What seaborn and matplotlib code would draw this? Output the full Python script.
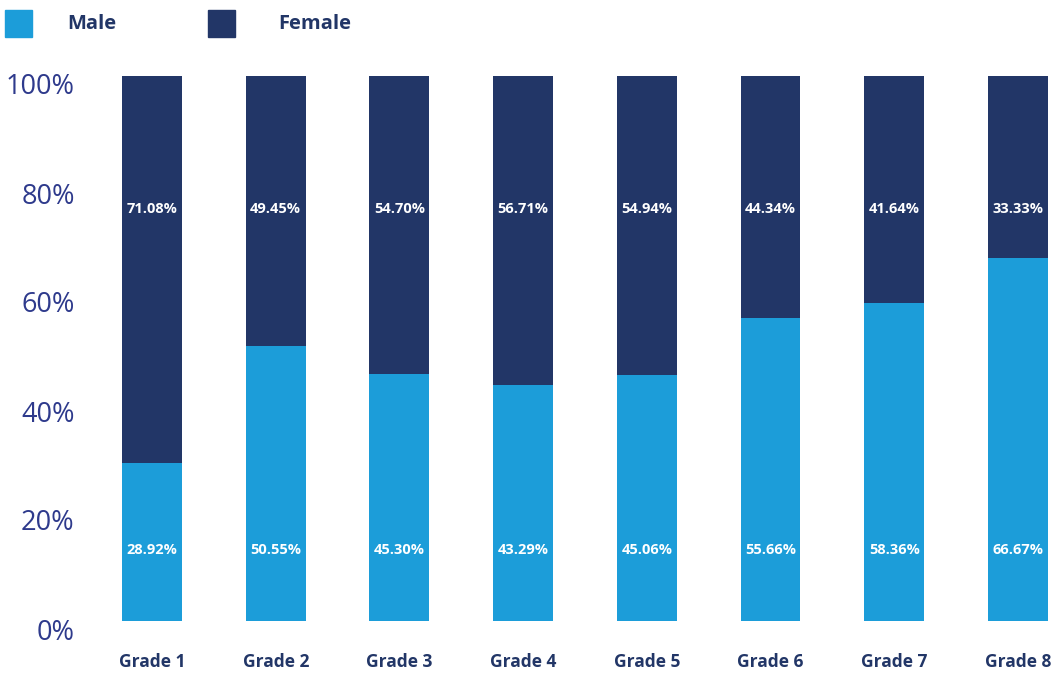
import matplotlib
matplotlib.use("Agg")
import matplotlib.pyplot as plt
import matplotlib.transforms as mtrans
from matplotlib.patches import Rectangle
import seaborn as sns
import pandas as pd

grades = ["Grade 1", "Grade 2", "Grade 3", "Grade 4", "Grade 5", "Grade 6", "Grade 7", "Grade 8"]
male = [28.92, 50.55, 45.30, 43.29, 45.06, 55.66, 58.36, 66.67]
female = [71.08, 49.45, 54.70, 56.71, 54.94, 44.34, 41.64, 33.33]
yticks = [0, 20, 40, 60, 80, 100]
ytick_labels = ["0%", "20%", "40%", "60%", "80%", "100%"]

MALE_C = "#1c9dd9"
FEMALE_C = "#223667"
TICK_C = "#2e3a8c"
TEXT_C = "#223667"

sns.set_style("white")
plt.rcParams["font.family"] = ["Open Sans", "Lato", "DejaVu Sans"]

W, H = 1053, 675
fig = plt.figure(figsize=(W / 100, H / 100), dpi=100)
L, R, B, T = 90, 1050, 621, 76
ax = fig.add_axes([L / W, (H - B) / H, (R - L) / W, (B - T) / H])

df = pd.DataFrame({"grade": grades, "male": male, "female": female})
df["total"] = df["male"] + df["female"]

sns.barplot(data=df, x="grade", y="total", color=FEMALE_C, width=0.485,
            saturation=1, ax=ax, order=grades, linewidth=0, edgecolor="none")
sns.barplot(data=df, x="grade", y="male", color=MALE_C, width=0.485,
            saturation=1, ax=ax, order=grades, linewidth=0, edgecolor="none")

step = 123.7
ax.set_xlim((L - 152) / step, (R - 152) / step)
ax.set_ylim(0, 100)
sns.despine(ax=ax, left=True, bottom=True)
ax.set_xlabel("")
ax.set_ylabel("")

ax.set_yticks(yticks)
ax.set_yticklabels(ytick_labels, fontsize=19.5, color=TICK_C, fontweight="normal")
ax.tick_params(axis="y", length=0, pad=11)
off = mtrans.ScaledTranslation(0, -8 / 100, fig.dpi_scale_trans)
for lab in ax.get_yticklabels():
    lab.set_transform(lab.get_transform() + off)

ax.set_xticks(range(len(grades)))
ax.set_xticklabels(grades, fontsize=12.5, fontweight="bold", color=TEXT_C)
ax.tick_params(axis="x", length=0, pad=23)

for i, (m, f) in enumerate(zip(male, female)):
    ax.text(i, 75.6, f"{f:.2f}%", ha="center", va="center", color="white",
            fontsize=10.5, fontweight="bold")
    ax.text(i, 13.0, f"{m:.2f}%", ha="center", va="center", color="white",
            fontsize=10.5, fontweight="bold")

# legend
for x0, lab, c, tx in [(5, "Male", MALE_C, 67), (208, "Female", FEMALE_C, 278)]:
    fig.patches.append(Rectangle((x0 / W, (H - 37) / H), 27 / W, 27 / H,
                                 transform=fig.transFigure, color=c))
    fig.text(tx / W, (H - 24) / H, lab, ha="left", va="center", fontsize=14.5,
             fontweight="bold", color=TEXT_C)

fig.savefig("out.png", dpi=100)
